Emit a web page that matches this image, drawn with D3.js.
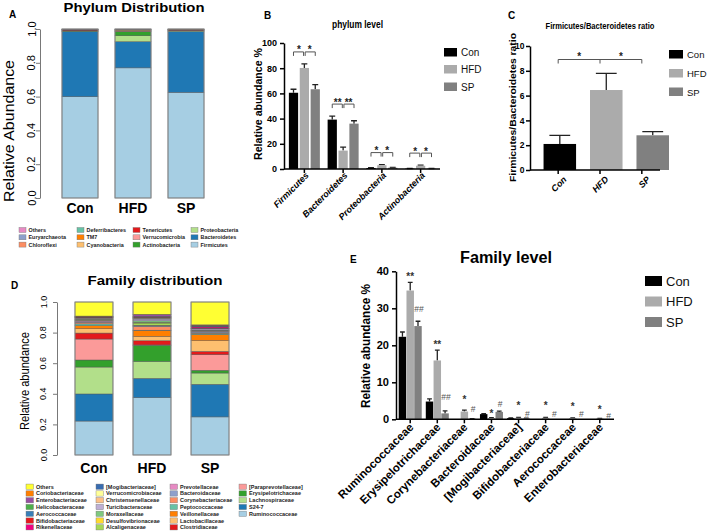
<!DOCTYPE html>
<html><head><meta charset="utf-8">
<script src="https://cdn.jsdelivr.net/npm/d3@7"></script>
<style>
body{margin:0;background:#fff}
svg{display:block}
</style></head><body>
<svg id="c" width="709" height="531"></svg>
<script>
// ---------------- DATA ----------------
const groups = ["Con", "HFD", "SP"];
const groupColors = ["#000000", "#ABABAB", "#808080"];

// Panel A: phylum distribution (stack order bottom -> top)
const phyla = ["Firmicutes","Bacteroidetes","Proteobacteria","Actinobacteria","Verrucomicrobia","Tenericutes","Cyanobacteria","TM7","Deferribacteres","Chloroflexi","Euryarchaeota","Others"];
const phylumColors = ["#A6CEE3","#1F78B4","#B2DF8A","#33A02C","#FB9A99","#E31A1C","#FDBF6F","#FF7F00","#66C2A5","#FC8D62","#8DA0CB","#E78AC3"];
const phylumCon = [0.600,0.385,0.003,0.002,0.002,0.003,0.001,0.001,0.001,0.001,0.001,0.001];
const phylumHFD = [0.770,0.155,0.035,0.025,0.003,0.002,0.004,0.003,0.001,0.001,0.001,0.000];
const phylumSP  = [0.625,0.360,0.004,0.002,0.002,0.003,0.001,0.001,0.001,0.001,0.000,0.000];

// Panel D: family distribution (stack order bottom -> top)
const families = ["Ruminococcaceae","S24-7","Lachnospiraceae","Erysipelotrichaceae","[Paraprevotellaceae]","Clostridiaceae","Lactobacillaceae","Veillonellaceae","Peptococcaceae","Corynebacteriaceae","Bacteroidaceae","Prevotellaceae","Alcaligenaceae","Desulfovibrionaceae","Moraxellaceae","Turicibacteraceae","Christensenellaceae","Verrucomicrobiaceae","[Mogibacteriaceae]","Rikenellaceae","Bifidobacteriaceae","Aerococcaceae","Helicobacteraceae","Enterobacteriaceae","Coriobacteriaceae","Others"];
const familyColors = ["#A6CEE3","#1F78B4","#B2DF8A","#33A02C","#FB9A99","#E31A1C","#FDBF6F","#FF7F00","#66C2A5","#FC8D62","#8DA0CB","#E78AC3","#A6D854","#FFD92F","#7FC97F","#BEAED4","#FDC086","#FFFF99","#386CB0","#F0027F","#E41A1C","#377EB8","#4DAF4A","#984EA3","#FF7F00","#FFFF33"];
const familyCon = [0.222,0.177,0.176,0.046,0.137,0.039,0.028,0.020,0.012,0.010,0.005,0.008,0.002,0.004,0.002,0.006,0.002,0.001,0.002,0.002,0.001,0.001,0.002,0.001,0.002,0.092];
const familyHFD = [0.374,0.126,0.110,0.106,0.002,0.027,0.028,0.039,0.002,0.024,0.004,0.004,0.015,0.004,0.010,0.012,0.003,0.003,0.003,0.002,0.002,0.002,0.002,0.012,0.002,0.080];
const familySP  = [0.250,0.214,0.074,0.018,0.102,0.022,0.070,0.040,0.008,0.004,0.008,0.003,0.002,0.002,0.002,0.008,0.002,0.001,0.002,0.008,0.002,0.004,0.001,0.005,0.002,0.150];

// Panel B: phylum level (%)
const phylumBarCats = ["Firmicutes","Bacteroidetes","Proteobacteria","Actinobacteria"];
const phyMeanCon = [60.5, 39.2, 0.8, 0.3];
const phyMeanHFD = [80.2, 14.6, 3.0, 2.6];
const phyMeanSP  = [63.3, 36.0, 1.0, 0.3];
const phyErrCon  = [2.8, 2.8, 0.2, 0.1];
const phyErrHFD  = [3.2, 2.8, 0.5, 0.5];
const phyErrSP   = [3.6, 2.3, 0.3, 0.1];
const phySig     = ["*", "**", "*", "*"];

// Panel C: Firmicutes/Bacteroidetes ratio
const ratioMean = [2.1, 6.45, 2.8];
const ratioErr  = [0.7, 1.35, 0.3];
const ratioSig  = ["*", "*"];

// Panel E: family level (%)
const familyBarCats = ["Ruminococcaceae","Erysipelotrichaceae","Corynebacteriaceae","Bacteroidaceae","[Mogibacteriaceae]","Bifidobacteriaceae","Aerococcaceae","Enterobacteriaceae"];
const famMeanCon = [22.3, 4.8, 0.05, 1.4, 0.3, 0.05, 0.05, 0.05];
const famMeanHFD = [34.8, 15.9, 2.1, 0.35, 0.4, 0.4, 0.3, 0.2];
const famMeanSP  = [25.2, 1.6, 0.15, 2.0, 0.25, 0.05, 0.05, 0.05];
const famErrCon  = [1.3, 0.7, 0, 0.1, 0.05, 0, 0, 0];
const famErrHFD  = [2.2, 2.8, 0.4, 0.1, 0.1, 0.1, 0.1, 0.05];
const famErrSP   = [1.3, 0.7, 0.05, 0.2, 0.05, 0, 0, 0];
const famSigHFD      = ["**","**","*","*","*","*","*","*"];
const famSigHFDLevel = [37.6, 19.4, 4.5, 0.6, 2.7, 2.7, 2.6, 1.8];
const famSigSP       = ["##","##","#","#","#","#","#","#"];
const famSigSPLevel  = [29.0, 5.2, 1.9, 3.4, 0.7, 0.7, 0.5, 0.1];

// ---------------- DRAWING ----------------
const F = '"Liberation Sans", Arial, sans-serif';
const FN = '"Liberation Sans Narrow", "Arial Narrow", "Liberation Sans", Arial, sans-serif';
const svg = d3.select("#c");
svg.append("rect").attr("width", 709).attr("height", 531).attr("fill", "#fff");

function text(g, x, y, s, o = {}) {
  const t = g.append("text").attr("x", x).attr("y", y).text(s)
    .attr("font-size", o.size || 10).attr("font-weight", o.weight || "normal")
    .attr("font-family", o.family || F).attr("text-anchor", o.anchor || "start")
    .attr("fill", o.fill || "#000");
  if (o.italic) t.attr("font-style", "italic");
  if (o.rotate != null) t.attr("transform", `rotate(${o.rotate},${x},${y})`);
  if (o.len) t.attr("textLength", o.len).attr("lengthAdjust", "spacingAndGlyphs");
  return t;
}

function stacked(g, keys, colors, arrays, x, y) {
  const rows = groups.map((gn, i) => { const o = {group: gn}; keys.forEach((k, j) => o[k] = arrays[i][j]); return o; });
  const series = d3.stack().keys(keys).offset(d3.stackOffsetExpand)(rows);
  g.selectAll("g.series").data(series).join("g").attr("class", "series")
    .attr("fill", (d, i) => colors[i])
    .selectAll("rect").data(d => d).join("rect")
    .attr("x", d => x(d.data.group)).attr("width", x.bandwidth())
    .attr("y", d => y(d[1])).attr("height", d => Math.max(0, y(d[0]) - y(d[1])))
    .attr("stroke", "#555").attr("stroke-width", 0.45);
  g.selectAll("rect.outline").data(groups).join("rect").attr("class", "outline")
    .attr("x", d => x(d)).attr("width", x.bandwidth())
    .attr("y", y(1)).attr("height", y(0) - y(1))
    .attr("fill", "none").attr("stroke", "#888").attr("stroke-width", 0.9);
}

function rAxis(g, y, ax, labX, size) {
  const a = g.append("g").attr("transform", `translate(${ax},0)`)
    .call(d3.axisLeft(y).ticks(5).tickSize(4).tickSizeOuter(0).tickFormat(""));
  a.selectAll("path,line").attr("stroke", "#555").attr("stroke-width", 0.8);
  g.selectAll("text.rtick").data(y.ticks(5)).join("text").attr("class", "rtick")
    .attr("x", labX).attr("y", d => y(d))
    .attr("transform", d => `rotate(-90,${labX},${y(d)})`)
    .attr("text-anchor", "middle").attr("font-family", F).attr("font-size", size)
    .text(d3.format(".1f"));
}

function legend(g, keys, colors, rows, colX, rowY0, rowDY, sw, sh, size) {
  const order = keys.map((k, i) => i).reverse();
  order.forEach((idx, j) => {
    const col = Math.floor(j / rows), row = j % rows;
    const x = colX[col], y = rowY0 + row * rowDY;
    g.append("rect").attr("x", x).attr("y", y - sh / 2).attr("width", sw).attr("height", sh)
      .attr("fill", colors[idx]).attr("stroke", "#777").attr("stroke-width", 0.4);
    text(g, x + sw + 2.5, y + size * 0.36, keys[idx], {size: size, weight: "bold", fill: "#222"});
  });
}

// ---- Panel A ----
const gA = svg.append("g");
const xA = d3.scaleBand().domain(groups).range([53.5, 212.5]).paddingInner(0.32).paddingOuter(0.16);
const yA = d3.scaleLinear().domain([0, 1]).range([198, 29]);
stacked(gA, phyla, phylumColors, [phylumCon, phylumHFD, phylumSP], xA, yA);
rAxis(gA, yA, 40, 35.5, 11);
groups.forEach(gn => text(gA, xA(gn) + xA.bandwidth() / 2, 213, gn, {size: 14, weight: "bold", anchor: "middle"}));
text(gA, 134, 12, "Phylum Distribution", {size: 13.5, weight: "bold", anchor: "middle", len: 141});
text(gA, 9, 18, "A", {size: 10, weight: "bold"});
text(gA, 14, 131, "Relative Abundance", {size: 15, anchor: "middle", rotate: -90, len: 142});
legend(gA, phyla, phylumColors, 3, [19, 77, 133, 191], 230, 7.3, 7, 5, 5.4);

// ---- Panel D ----
const gD = svg.append("g");
const xD = d3.scaleBand().domain(groups).range([65, 239]).paddingInner(0.345).paddingOuter(0.172);
const yD = d3.scaleLinear().domain([0, 1]).range([455, 302]);
stacked(gD, families, familyColors, [familyCon, familyHFD, familySP], xD, yD);
rAxis(gD, yD, 57, 46.5, 9);
groups.forEach(gn => text(gD, xD(gn) + xD.bandwidth() / 2, 473, gn, {size: 14, weight: "bold", anchor: "middle"}));
text(gD, 155, 285, "Family distribution", {size: 13, weight: "bold", anchor: "middle", len: 135});
text(gD, 11, 289, "D", {size: 10, weight: "bold"});
text(gD, 29, 381, "Relative abundance", {size: 13, anchor: "middle", rotate: -90, len: 98});
legend(gD, families, familyColors, 7, [26, 96, 170, 239], 486.7, 6.77, 7.5, 5.3, 5.5);

// ---- Grouped (GraphPad-style) helpers ----
function bars(g, cats, means, errs, x0, x1, y) {
  groups.forEach((gn, gi) => {
    const data = cats.map((c, ci) => ({c, v: means[gi][ci], e: errs[gi][ci]}));
    const cx = d => x0(d.c) + x1(gn) + x1.bandwidth() / 2;
    const w = x1.bandwidth();
    g.append("g").selectAll("path").data(data.filter(d => d.e > 0)).join("path")
      .attr("d", d => `M${cx(d)},${y(d.v)}V${y(d.v + d.e)}M${cx(d) - w * 0.32},${y(d.v + d.e)}H${cx(d) + w * 0.32}`)
      .attr("stroke", "#222").attr("stroke-width", 1.3).attr("fill", "none");
    g.append("g").selectAll("rect").data(data).join("rect")
      .attr("x", d => x0(d.c) + x1(gn)).attr("width", w)
      .attr("y", d => y(d.v)).attr("height", d => y(0) - y(d.v))
      .attr("fill", groupColors[gi]);
  });
}
function gpAxes(g, x0, y, ax, ay, ticks, tickSizeY, fontY, xEnd) {
  const a = g.append("g").attr("transform", `translate(${ax},0)`)
    .call(d3.axisLeft(y).ticks(ticks).tickSize(tickSizeY).tickSizeOuter(0));
  a.selectAll("text").attr("font-family", fontY.family).attr("font-size", fontY.size).attr("font-weight", "bold").attr("fill", "#000");
  a.selectAll("path,line").attr("stroke", "#000").attr("stroke-width", 1.5);
  const b = g.append("g").attr("transform", `translate(0,${ay})`)
    .call(d3.axisBottom(x0).tickSize(4).tickSizeOuter(0).tickFormat(""));
  b.select(".domain").attr("d", `M${ax},0H${xEnd}`);
  b.selectAll("path,line").attr("stroke", "#000").attr("stroke-width", 1.5);
  return a;
}
function gpLegend(g, x, ys, w, h, size, font) {
  groups.forEach((gn, i) => {
    g.append("rect").attr("x", x).attr("y", ys[i]).attr("width", w).attr("height", h).attr("fill", groupColors[i]);
    text(g, x + w + 4, ys[i] + h - 0.5, gn, {size, family: font, fill: "#111"});
  });
}

// ---- Panel B ----
const gB = svg.append("g");
const x0B = d3.scaleBand().domain(phylumBarCats).range([285, 440]).paddingInner(0.2).paddingOuter(0.1);
const x1B = d3.scaleBand().domain(groups).range([0, x0B.bandwidth()]).paddingInner(0.15);
const yB = d3.scaleLinear().domain([0, 100]).range([169, 43]);
bars(gB, phylumBarCats, [phyMeanCon, phyMeanHFD, phyMeanSP], [phyErrCon, phyErrHFD, phyErrSP], x0B, x1B, yB);
gpAxes(gB, x0B, yB, 284, 169, 5, 4, {family: FN, size: 9}, 440);
phylumBarCats.forEach((c, ci) => {
  const cen = x0B(c) + x0B.bandwidth() / 2;
  text(gB, cen + 5, 176, c, {size: 9, weight: "bold", italic: true, anchor: "end", rotate: -45, family: FN});
  const top = Math.max(phyMeanCon[ci] + phyErrCon[ci], phyMeanHFD[ci] + phyErrHFD[ci], phyMeanSP[ci] + phyErrSP[ci]);
  const by = yB(top) - 12;
  const cs = groups.map(gn => x0B(c) + x1B(gn) + x1B.bandwidth() / 2);
  gB.append("path").attr("d", `M${cs[0]},${by + 4}V${by}H${cs[1] - 0.8}V${by + 4}M${cs[1] + 0.8},${by + 4}V${by}H${cs[2]}V${by + 4}`)
    .attr("fill", "none").attr("stroke", "#555").attr("stroke-width", 1);
  text(gB, (cs[0] + cs[1]) / 2, by + 1.5, phySig[ci], {size: 10, weight: "bold", anchor: "middle", fill: "#222"});
  text(gB, (cs[1] + cs[2]) / 2, by + 1.5, phySig[ci], {size: 10, weight: "bold", anchor: "middle", fill: "#222"});
});
text(gB, 264, 19, "B", {size: 10, weight: "bold"});
text(gB, 357.5, 28, "phylum level", {size: 10, weight: "bold", anchor: "middle", family: FN, len: 51});
text(gB, 262, 104, "Relative abundance %", {size: 10, weight: "bold", anchor: "middle", rotate: -90, family: FN, len: 112});
gpLegend(gB, 444, [48, 65, 82.5], 13, 8.5, 10, FN);

// ---- Panel C ----
const gC = svg.append("g");
const xC = d3.scaleBand().domain(groups).range([531, 669]).paddingInner(0.3).paddingOuter(0.3);
const yC = d3.scaleLinear().domain([0, 10]).range([170, 46]);
bars(gC, [null], [[ratioMean[0]], [ratioMean[1]], [ratioMean[2]]],
     [[ratioErr[0]], [ratioErr[1]], [ratioErr[2]]],
     c => 0, d3.scaleBand().domain(groups).range([xC(groups[0]), xC(groups[0]) + 3 * xC.step()]).paddingInner(0.3).paddingOuter(0), yC);
const axC = gpAxes(gC, xC, yC, 530, 170, 5, 4, {family: FN, size: 8.5}, 660);
axC.selectAll("text").attr("x", -5.5);
const csC = groups.map(gn => xC(gn) + xC.bandwidth() / 2);
groups.forEach((gn, i) => text(gC, csC[i] + 9, 180, gn, {size: 9, weight: "bold", italic: true, anchor: "end", rotate: -45, family: FN}));
const byC = 59.5;
gC.append("path").attr("d", `M${csC[0]},${byC + 4}V${byC}H${csC[1]}V${byC + 4}M${csC[1]},${byC}H${csC[2]}V${byC + 4}`)
  .attr("fill", "none").attr("stroke", "#555").attr("stroke-width", 1);
text(gC, (csC[0] + csC[1]) / 2, byC + 0.5, ratioSig[0], {size: 10, weight: "bold", anchor: "middle", fill: "#222"});
text(gC, (csC[1] + csC[2]) / 2, byC + 0.5, ratioSig[1], {size: 10, weight: "bold", anchor: "middle", fill: "#222"});
text(gC, 508, 19, "C", {size: 10, weight: "bold"});
text(gC, 600, 29, "Firmicutes/Bacteroidetes ratio", {size: 8.5, weight: "bold", anchor: "middle", family: FN, len: 109});
text(gC, 515.5, 107.5, "Firmicutes/Bacteroidetes ratio", {size: 8.5, weight: "bold", anchor: "middle", rotate: -90, len: 149});
gpLegend(gC, 669, [50, 69, 87.5], 14, 8.5, 9.5, FN);

// ---- Panel E ----
const gE = svg.append("g");
const x0E = d3.scaleBand().domain(familyBarCats).range([396, 614]).paddingInner(0.15).paddingOuter(0.1);
const x1E = d3.scaleBand().domain(groups).range([0, x0E.bandwidth()]).paddingInner(0.04);
const yE = d3.scaleLinear().domain([0, 40]).range([419.3, 271.3]);
bars(gE, familyBarCats, [famMeanCon, famMeanHFD, famMeanSP], [famErrCon, famErrHFD, famErrSP], x0E, x1E, yE);
gpAxes(gE, x0E, yE, 396, 419.3, 4, 4, {family: F, size: 11}, 614);
familyBarCats.forEach((c, ci) => {
  const cen = x0E(c) + x0E.bandwidth() / 2;
  text(gE, cen + 4, 428, c, {size: 11.5, weight: "bold", anchor: "end", rotate: -45});
  const xh = x0E(c) + x1E("HFD") + x1E.bandwidth() / 2;
  const xs = x0E(c) + x1E("SP") + x1E.bandwidth() / 2;
  text(gE, xh, yE(famSigHFDLevel[ci]), famSigHFD[ci], {size: 10, weight: "bold", anchor: "middle", fill: "#333"});
  text(gE, xs + 1, yE(famSigSPLevel[ci]), famSigSP[ci], {size: 8.5, anchor: "middle", fill: "#555"});
});
text(gE, 350, 263, "E", {size: 10, weight: "bold"});
text(gE, 506, 263, "Family level", {size: 16, weight: "bold", anchor: "middle", len: 92});
text(gE, 370, 346, "Relative abundance %", {size: 13, weight: "bold", anchor: "middle", rotate: -90, len: 124});
gpLegend(gE, 645, [276, 296.5, 317], 17, 10, 13, F);
</script>
</body></html>
